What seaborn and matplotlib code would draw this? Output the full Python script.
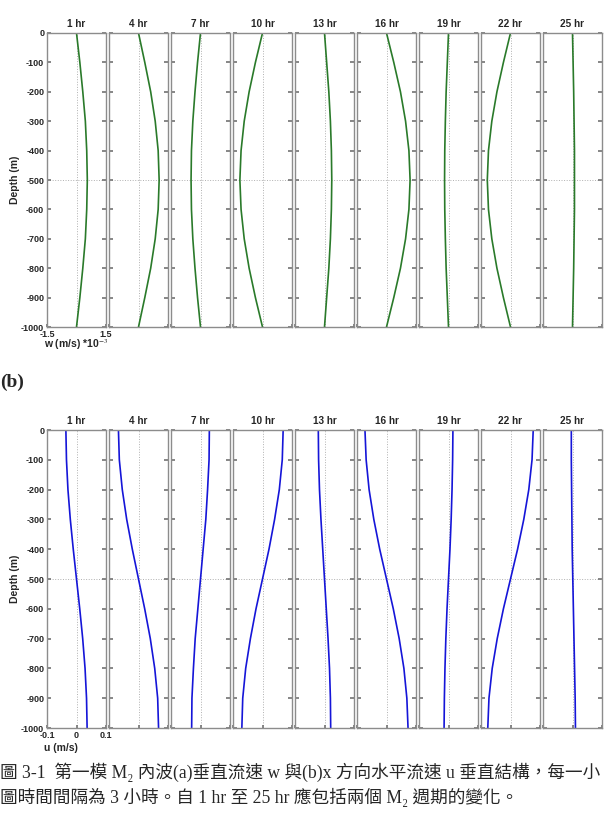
import matplotlib
matplotlib.use('Agg')
import matplotlib.pyplot as plt
import seaborn as sns
import pandas as pd

sns.set_theme(style='white')
plt.rcParams['font.family'] = ['Liberation Sans', 'DejaVu Sans']
plt.rcParams['mathtext.fontset'] = 'stix'
plt.rcParams['axes.unicode_minus'] = False

hours = ['1 hr', '4 hr', '7 hr', '10 hr', '13 hr', '16 hr', '19 hr', '22 hr', '25 hr']
depth = [0, -100, -200, -300, -400, -500, -600, -700, -800, -900, -1000]

# (a) vertical velocity w, units 1e-3 m/s
w_01 = [0, 0.17, 0.32, 0.45, 0.52, 0.55, 0.52, 0.45, 0.32, 0.17, 0]
w_04 = [0, 0.32, 0.62, 0.85, 1.00, 1.05, 1.00, 0.85, 0.62, 0.32, 0]
w_07 = [0, -0.15, -0.28, -0.39, -0.46, -0.48, -0.46, -0.39, -0.28, -0.15, 0]
w_10 = [0, -0.36, -0.68, -0.93, -1.09, -1.15, -1.09, -0.93, -0.68, -0.36, 0]
w_13 = [0, 0.11, 0.22, 0.30, 0.35, 0.37, 0.35, 0.30, 0.22, 0.11, 0]
w_16 = [0, 0.37, 0.71, 0.97, 1.14, 1.20, 1.14, 0.97, 0.71, 0.37, 0]
w_19 = [0, -0.06, -0.12, -0.16, -0.19, -0.20, -0.19, -0.16, -0.12, -0.06, 0]
w_22 = [0, -0.36, -0.69, -0.95, -1.12, -1.18, -1.12, -0.95, -0.69, -0.36, 0]
w_25 = [0, 0.03, 0.06, 0.08, 0.10, 0.10, 0.10, 0.08, 0.06, 0.03, 0]

# (b) horizontal velocity u, m/s
u_01 = [-0.036, -0.034, -0.029, -0.021, -0.011, 0.000, 0.011, 0.021, 0.029, 0.034, 0.036]
u_04 = [-0.068, -0.065, -0.055, -0.040, -0.021, 0.000, 0.021, 0.040, 0.055, 0.065, 0.068]
u_07 = [0.030, 0.029, 0.024, 0.018, 0.009, 0.000, -0.009, -0.018, -0.024, -0.029, -0.030]
u_10 = [0.070, 0.067, 0.057, 0.041, 0.022, 0.000, -0.022, -0.041, -0.057, -0.067, -0.070]
u_13 = [-0.021, -0.020, -0.017, -0.012, -0.006, 0.000, 0.006, 0.012, 0.017, 0.020, 0.021]
u_16 = [-0.073, -0.069, -0.059, -0.043, -0.023, 0.000, 0.023, 0.043, 0.059, 0.069, 0.073]
u_19 = [0.015, 0.014, 0.012, 0.009, 0.005, 0.000, -0.005, -0.009, -0.012, -0.014, -0.015]
u_22 = [0.077, 0.073, 0.062, 0.045, 0.024, 0.000, -0.024, -0.045, -0.062, -0.073, -0.077]
u_25 = [-0.004, -0.004, -0.003, -0.002, -0.001, 0.001, 0.003, 0.005, 0.007, 0.009, 0.010]

w_profiles = [w_01, w_04, w_07, w_10, w_13, w_16, w_19, w_22, w_25]
u_profiles = [u_01, u_04, u_07, u_10, u_13, u_16, u_19, u_22, u_25]

W, H = 611, 822
fig = plt.figure(figsize=(W / 100, H / 100), dpi=100)


def draw_row(profiles, top, bottom, color, xlim, xticks, xticklabels, xlabel, xlabel_y):
    axes = []
    for i, (name, vals) in enumerate(zip(hours, profiles)):
        left = 47 + 62 * i
        ax = fig.add_axes([left / W, 1 - bottom / H, 59 / W, (bottom - top) / H])
        df = pd.DataFrame({'v': vals, 'depth': depth})
        ax.axvline(0, color='#b0b0b0', ls=':', lw=0.7, zorder=0)
        ax.axhline(-500, color='#b0b0b0', ls=':', lw=0.7, zorder=0)
        sns.lineplot(data=df, x='v', y='depth', orient='y', estimator=None,
                     color=color, lw=1.2, ax=ax)
        ax.set_xlim(*xlim)
        ax.set_ylim(-1000, 0)
        ax.set_yticks(range(-1000, 1, 100))
        ax.set_xticks(xticks)
        ax.set_xlabel('')
        ax.set_ylabel('')
        ax.set_title(name, fontsize=7.2, fontweight='bold', pad=4)
        for s in ax.spines.values():
            s.set_color('#8c8c8c')
            s.set_linewidth(1.0)
        ax.tick_params(axis='y', left=True, right=True, direction='in', length=3,
                       color='#777777', labelsize=6.5, pad=2)
        ax.tick_params(axis='x', bottom=True, direction='in', length=2,
                       color='#777777', labelsize=6.5, pad=2)
        if i == 0:
            ax.set_xticklabels(xticklabels, fontweight='bold')
            for t in ax.get_yticklabels():
                t.set_fontweight('bold')
            ax.set_ylabel('Depth (m)', fontsize=7.5, fontweight='bold', labelpad=1)
        else:
            ax.set_xticklabels([])
            ax.set_yticklabels([])
        axes.append(ax)
    fig.text(44 / W, 1 - xlabel_y / H, xlabel, fontsize=7.5, fontweight='bold',
             va='center', ha='left')
    return axes


draw_row(w_profiles, 33, 327, '#2a7a2a', (-1.5, 1.5), [-1.5, 1.5], ['-1.5', '1.5'],
         r'w (m/s) *10$^{-3}$', 345)
draw_row(u_profiles, 430, 728, '#1515d8', (-0.1, 0.1), [-0.1, 0, 0.1], ['-0.1', '0', '0.1'],
         'u (m/s)', 748)

fig.text(0.0, 1 - 382 / H, '(b)', fontsize=14, fontweight='bold',
         family=['Liberation Serif'], va='center', ha='left')

cap_font = ['Liberation Serif', 'Noto Sans CJK TC', 'DejaVu Serif']
line1 = '圖 3-1  第一模 M₂ 內波(a)垂直流速 w 與(b)x 方向水平流速 u 垂直結構，每一小'
line2 = '圖時間間隔為 3 小時。自 1 hr 至 25 hr 應包括兩個 M₂ 週期的變化。'
fig.text(0.0, 1 - 772 / H, line1, fontsize=12.7, family=cap_font, va='center', ha='left')
fig.text(0.0, 1 - 797 / H, line2, fontsize=12.7, family=cap_font, va='center', ha='left')

fig.savefig('out.png', dpi=100)
